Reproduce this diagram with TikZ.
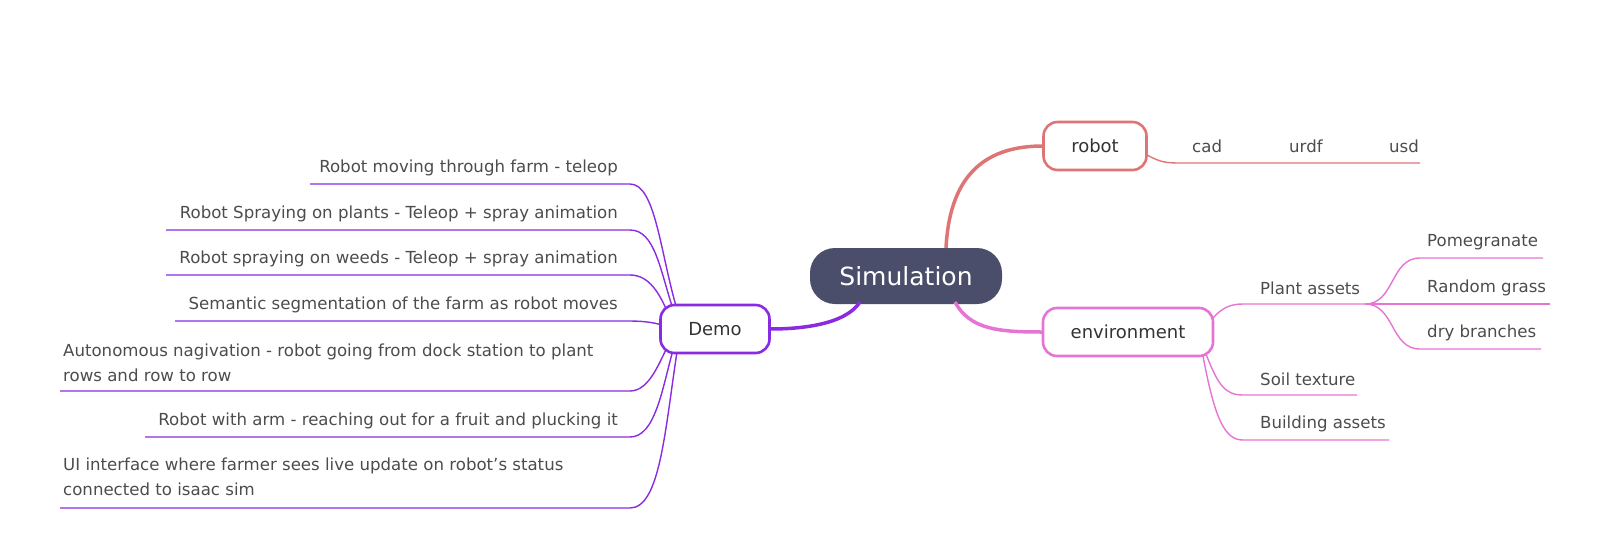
\documentclass[tikz,border=0pt]{standalone}
\usepackage{fontspec}
\setmainfont{DejaVu Sans}
\begin{document}
\begin{tikzpicture}[x=1pt,y=-1pt,
  txt/.style={font=\fontsize{16.6}{25}\selectfont,text=black!70,inner sep=0pt},
  box/.style={draw,line width=2.6pt,rounded corners=14pt,minimum height=48pt,font=\fontsize{18}{21}\selectfont,text=black!80,fill=white},
  dm/.style={draw=demoC,line width=1.4pt},
  en/.style={draw=envC,line width=1.4pt},
  rb/.style={draw=robC,line width=1.4pt}]
\definecolor{demoC}{HTML}{8A2BE2}
\definecolor{envC}{HTML}{E674D4}
\definecolor{robC}{HTML}{DF7474}
\definecolor{simC}{HTML}{4B4E6B}
\useasboundingbox (0,0) rectangle (1610,552);
\node[fill=simC,rounded corners=25pt,minimum width=192pt,minimum height=56pt,text=white,font=\fontsize{25}{28}\selectfont,inner sep=0pt] (sim) at (906,276) {Simulation};
\coordinate (robot) at (1095,146);
\coordinate (env) at (1128,332);
\coordinate (demo) at (715,329);
\coordinate (robotW) at (1043,146);
\coordinate (envW) at (1043,332);
\coordinate (demoE) at (770,329);
\draw[robC,line width=3.5pt] (946,248) .. controls (950,170) and (990,146) .. (robotW);
\draw[envC,line width=3.5pt] (955,302) .. controls (970,330) and (1000,332) .. (envW);
\draw[demoC,line width=3.5pt] (860,302) .. controls (845,325) and (800,329) .. (demoE);
% robot children
\node[txt,anchor=west] (cad) at (1192,146) {cad};
\node[txt,anchor=west] (urdf) at (1289,146) {urdf};
\node[txt,anchor=west] (usd) at (1389,146) {usd};
\coordinate (r0) at (1180,163); \coordinate (r1) at (1420,163);
\draw[rb] (1147,155) .. controls (1160,162) and (1165,163) .. (r0) -- (r1);
% environment children
\node[txt,anchor=west] (plant) at (1260,288) {Plant assets};
\coordinate (p0) at (1243,304); \coordinate (p1) at (1365,304);
\draw[en] (1213,318) .. controls (1222,308) and (1230,304) .. (p0) -- (p1);
\node[txt,anchor=west] (pom) at (1427,242) {Pomegranate};
\node[txt,anchor=west] (grass) at (1427,288) {Random grass};
\node[txt,anchor=west] (dry) at (1427,333) {dry branches};
\coordinate (a1) at (1420,258); \coordinate (a2) at (1543,258);
\coordinate (b1) at (1420,304); \coordinate (b2) at (1550,304);
\coordinate (c1) at (1420,349); \coordinate (c2) at (1541,349);
\draw[en] (p1) .. controls (1395,304) and (1390,258) .. (a1) -- (a2);
\draw[en] (p1) -- (b1) -- (b2);
\draw[en] (p1) .. controls (1395,304) and (1390,349) .. (c1) -- (c2);
\node[txt,anchor=west] (soil) at (1260,379) {Soil texture};
\node[txt,anchor=west] (build) at (1260,424) {Building assets};
\coordinate (s0) at (1243,395); \coordinate (s1) at (1357,395);
\coordinate (t0) at (1243,440); \coordinate (t1) at (1389,440);
\draw[en] (1206,354) .. controls (1218,385) and (1225,395) .. (s0) -- (s1);
\draw[en] (1203,356) .. controls (1215,420) and (1225,440) .. (t0) -- (t1);
% demo children
\foreach \n/\ty/\uy/\lx/\t in {
 d1/168/184/310/{Robot moving through farm - teleop},
 d2/214/230/166/{Robot Spraying on plants - Teleop + spray animation},
 d3/259/275/166/{Robot spraying on weeds - Teleop + spray animation},
 d4/305/321/175/{Semantic segmentation of the farm as robot moves},
 d6/421/437/145/{Robot with arm - reaching out for a fruit and plucking it}}{
 \node[txt,anchor=east] (\n) at (618,\ty) {\t};
 \coordinate (\n a) at (\lx,\uy); \coordinate (\n b) at (630,\uy);
}
\node[txt,anchor=west,align=left] (d5) at (63,363) {Autonomous nagivation - robot going from dock station to plant\\rows and row to row};
\node[txt,anchor=west,align=left] (d7) at (63,477) {UI interface where farmer sees live update on robot's status\\connected to isaac sim};
\coordinate (d5a) at (60,391); \coordinate (d5b) at (630,391);
\coordinate (d7a) at (60,508); \coordinate (d7b) at (630,508);
\draw[dm] (d1a) -- (d1b) .. controls (655,184) and (660,250) .. (676,306);
\draw[dm] (d2a) -- (d2b) .. controls (655,230) and (660,270) .. (673,309);
\draw[dm] (d3a) -- (d3b) .. controls (650,275) and (660,295) .. (668,313);
\draw[dm] (d4a) -- (d4b) .. controls (645,321) and (655,323) .. (662,325);
\draw[dm] (d5a) -- (d5b) .. controls (650,391) and (660,360) .. (668,346);
\draw[dm] (d6a) -- (d6b) .. controls (655,437) and (662,390) .. (673,350);
\draw[dm] (d7a) -- (d7b) .. controls (660,508) and (665,430) .. (677,352);
\node[box,draw=robC,minimum width=103pt] (robotN) at (robot) {robot};
\node[box,draw=envC,minimum width=170pt] (envN) at (env) {environment};
\node[box,draw=demoC,minimum width=109pt] (demoN) at (demo) {Demo};
\end{tikzpicture}
\end{document}
